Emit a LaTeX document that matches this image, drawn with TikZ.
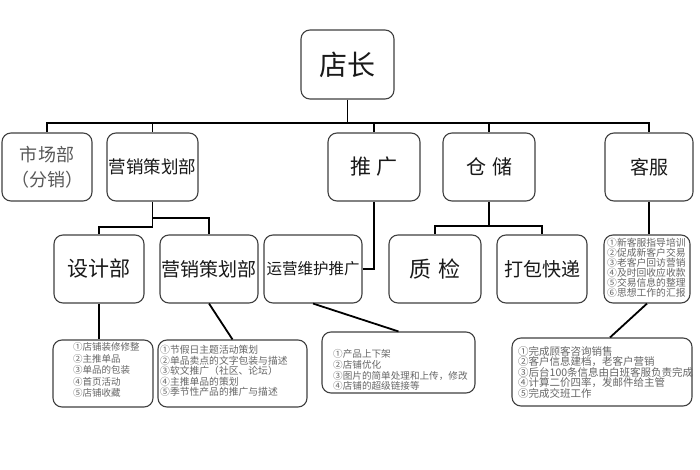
\documentclass[tikz,border=0pt]{standalone}
\usepackage{fontspec}
\setmainfont{Noto Sans CJK SC}
\begin{document}
\begin{tikzpicture}[x=1pt,y=-1pt,
  box/.style={draw=black!75, line width=1.1pt, rounded corners=9pt, fill=white, inner sep=0pt, align=center, text=black!90},
  conn/.style={draw=black, line width=1.8pt},
  listtxt/.style={anchor=west, align=left, inner sep=0pt, text=black!60},
  fs/.style={font=\fontsize{#1}{#1}\selectfont}
]
\useasboundingbox[fill=white] (0,0) rectangle (700,470);
% level 0
\node[box, minimum width=93pt, minimum height=69pt, fs=28] (dz) at (347.5,64.5) {店长};
% level 1
\node[box, minimum width=90pt, minimum height=68pt, text=black!65, font=\fontsize{18}{25}\selectfont] (sc) at (47,167) {市场部\\（分销）};
\node[box, minimum width=91pt, minimum height=68pt, fs=17.5] (yx1) at (152.5,167) {营销策划部};
\node[box, minimum width=92pt, minimum height=68pt, fs=21] (tg) at (374,167) {推\hspace{6pt}广};
\node[box, minimum width=92pt, minimum height=68pt, fs=20] (cc) at (489,167) {仓\hspace{6pt}储};
\node[box, minimum width=88pt, minimum height=68pt, fs=19] (kf) at (649,167) {客服};
% level 2
\node[box, minimum width=90pt, minimum height=68pt, fs=21] (sj) at (99,269) {设计部};
\node[box, minimum width=98pt, minimum height=68pt, fs=19] (yx2) at (209,269) {营销策划部};
\node[box, minimum width=98pt, minimum height=68pt, fs=15.5] (yy) at (313,269) {运营维护推广};
\node[box, minimum width=92pt, minimum height=68pt, fs=22] (zj) at (435,269) {质\hspace{7pt}检};
\node[box, minimum width=90pt, minimum height=68pt, fs=19] (db) at (542,269) {打包快递};
\node[box, minimum width=86pt, minimum height=68pt] (kfl) at (647,269) {};
\node[listtxt, font=\fontsize{9.8}{10}\selectfont] (kflt) at (607,268) {①新客服指导培训\\②促成新客户交易\\③老客户回访营销\\④及时回收应收款\\⑤交易信息的整理\\⑥思想工作的汇报};
% bottom
\node[box, minimum width=100pt, minimum height=67pt] (b1) at (103,373.5) {};
\node[listtxt, font=\fontsize{9.5}{11.5}\selectfont] (b1t) at (73,370) {①店铺装修修整\\②主推单品\\③单品的包装\\④首页活动\\⑤店铺收藏};
\node[box, minimum width=149pt, minimum height=67pt] (b2) at (232.5,373.5) {};
\node[listtxt, font=\fontsize{9.8}{10.5}\selectfont] (b2t) at (160,371) {①节假日主题活动策划\\②单品卖点的文字包装与描述\\③软文推广（社区、论坛）\\④主推单品的策划\\⑤季节性产品的推广与描述};
\node[box, minimum width=153pt, minimum height=61pt] (b3) at (398.5,362.5) {};
\node[listtxt, font=\fontsize{9.6}{10.7}\selectfont] (b3t) at (333,370) {①产品上下架\\②店铺优化\\③图片的简单处理和上传，修改\\④店铺的超级链接等};
\node[box, minimum width=180pt, minimum height=68pt] (b4) at (602,372) {};
\node[listtxt, font=\fontsize{10.5}{10.5}\selectfont] (b4t) at (518,372) {①完成顾客咨询销售\\②客户信息建档，老客户营销\\③后台100条信息由白班客服负责完成\\④计算二价四率，发邮件给主管\\⑤完成交班工作};
% connectors
\coordinate (bar) at (0,123);
\coordinate (j1) at (0,218);
\coordinate (j2) at (0,227);
\coordinate (j3) at (0,226);
\draw[conn] (dz.south) -- (dz.south |- bar);
\draw[conn] (dz.south |- bar) -| (sc.north);
\draw[conn] (dz.south |- bar) -| (yx1.north);
\draw[conn] (dz.south |- bar) -| (tg.north);
\draw[conn] (dz.south |- bar) -| (cc.north);
\draw[conn] (dz.south |- bar) -| (kf.north);
\draw[conn] (yx1.south) -- (yx1.south |- j2) -| (sj.north);
\draw[conn] (yx1.south |- j1) -| (yx2.north);
\draw[conn] (tg.south) |- (yy.east);
\draw[conn] (cc.south) -- (cc.south |- j3) -| (zj.north);
\draw[conn] (cc.south |- j3) -| (db.north);
\draw[conn] (kf.south) -- (kf.south |- kfl.north);
\draw[conn] (sj.south) -- (sj.south |- b1.north);
\draw[conn] (yx2.south) -- (b2.north);
\draw[conn] (yy.south) -- (b3.north);
\draw[conn] (kfl.south) -- ([xshift=8pt]b4.north);
\end{tikzpicture}
\end{document}
